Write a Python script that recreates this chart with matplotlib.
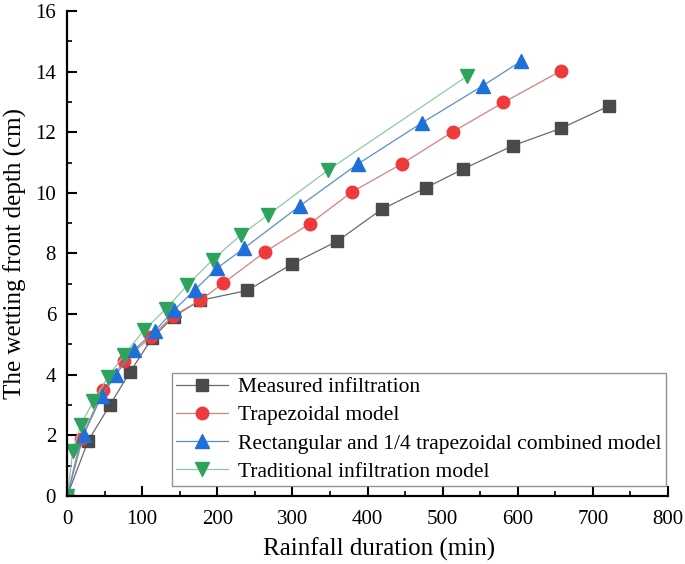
import numpy as np
import matplotlib.pyplot as plt
from matplotlib.ticker import MultipleLocator

plt.rcParams['font.family'] = ['Liberation Serif', 'DejaVu Serif']

# measured infiltration
t_meas = [0, 28, 57, 84, 113, 142, 177, 240, 300, 360, 419, 478, 527, 594, 658, 722]
d_meas = [0, 1.82, 3.0, 4.1, 5.2, 5.92, 6.45, 6.78, 7.66, 8.41, 9.46, 10.17, 10.78, 11.56, 12.13, 12.87]

# trapezoidal model
t_trap = [0, 18, 48, 76, 112, 141, 177, 208, 264, 323, 380, 446, 514, 581, 658]
d_trap = [0, 1.87, 3.5, 4.46, 5.26, 5.94, 6.45, 7.02, 8.06, 8.98, 10.04, 10.96, 12.02, 12.98, 14.03]

# rectangular and 1/4 trapezoidal combined model
t_rect = [0, 22, 46, 65, 89, 117, 142, 170, 200, 236, 310, 387, 472, 554, 605]
d_rect = [0, 2.02, 3.3, 4.0, 4.82, 5.45, 6.12, 6.8, 7.52, 8.18, 9.57, 10.95, 12.3, 13.54, 14.35]

# traditional infiltration model
t_trad = [0, 7.6, 18, 35, 55, 76, 102, 131, 160, 194, 231, 268, 348, 532]
d_trad = [0, 1.48, 2.34, 3.13, 3.94, 4.66, 5.46, 6.16, 6.95, 7.8, 8.6, 9.28, 10.76, 13.84]

labels = ['Measured infiltration', 'Trapezoidal model',
          'Rectangular and 1/4 trapezoidal combined model', 'Traditional infiltration model']

fig = plt.figure(figsize=(6.85, 5.64), dpi=100)
ax = fig.add_axes([0.098, 0.1206, 0.877, 0.86])

ax.plot(t_meas, d_meas, color='#6a6a6a', lw=0.9, marker='s', ms=8,
        mfc='#4a4a4a', mec='#4a4a4a', label=labels[0])
ax.plot(t_trap, d_trap, color='#d98080', lw=0.9, marker='o', ms=9,
        mfc='#ee3a3a', mec='#ee3a3a', label=labels[1])
ax.plot(t_rect, d_rect, color='#5b8ec8', lw=0.9, marker='^', ms=10,
        mfc='#1f6fd8', mec='#1f6fd8', label=labels[2])
ax.plot(t_trad, d_trad, color='#8ccaa4', lw=0.9, marker='v', ms=10,
        mfc='#2ea35e', mec='#2ea35e', label=labels[3])

ax.set_xlim(0, 800)
ax.set_ylim(0, 16)
ax.xaxis.set_major_locator(MultipleLocator(100))
ax.xaxis.set_minor_locator(MultipleLocator(50))
ax.yaxis.set_major_locator(MultipleLocator(2))
ax.yaxis.set_minor_locator(MultipleLocator(1))
ax.tick_params(which='major', direction='in', length=7, width=1.5, labelsize=15)
ax.tick_params(axis='x', which='major', pad=10)
ax.tick_params(axis='y', which='major', pad=8)
ax.tick_params(which='minor', direction='in', length=3.5, width=1.2)

for s in ['top', 'right']:
    ax.spines[s].set_visible(False)
for s in ['left', 'bottom']:
    ax.spines[s].set_linewidth(1.6)

ax.set_xlabel('Rainfall duration (min)', fontsize=18, labelpad=9)
ax.xaxis.set_label_coords(0.52, -0.085)
ax.set_ylabel('The wetting front depth (cm)', fontsize=18, labelpad=6)

leg = ax.legend(loc='lower right', bbox_to_anchor=(0.997, 0.02), fontsize=15.5,
                frameon=True, fancybox=False, edgecolor='#777777',
                handlelength=2.4, borderpad=0.2, labelspacing=0.38,
                handletextpad=0.5, borderaxespad=0)
leg.get_frame().set_linewidth(1.0)

fig.savefig('out.png', dpi=100)
